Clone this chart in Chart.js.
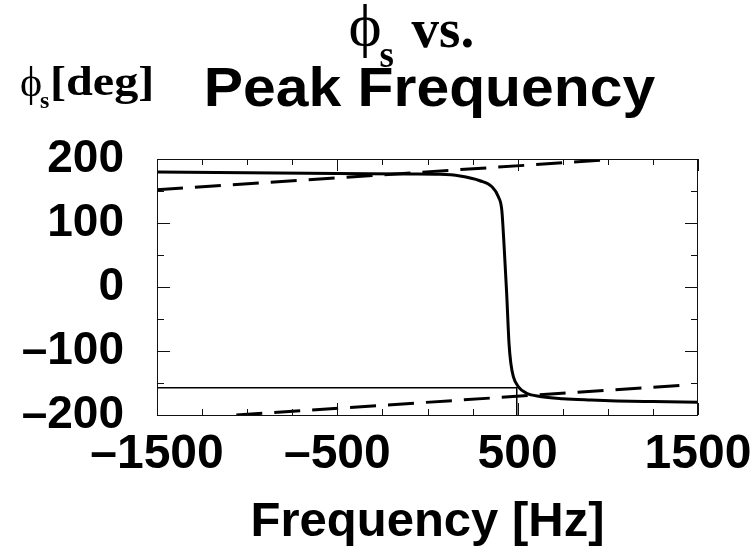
<!DOCTYPE html>
<html>
<head>
<meta charset="utf-8">
<script src="https://cdn.jsdelivr.net/npm/chart.js@4.4.1/dist/chart.umd.min.js"></script>
<style>
  html, body { margin: 0; padding: 0; background: #fff; }
  #wrap { width: 755px; height: 556px; position: relative; }
</style>
</head>
<body>
<div id="wrap"><canvas id="chart"></canvas></div>
<script>
// phase of the peak vs frequency offset
const freqHz   = [-1500, -1000, -500, -100, 69, 180, 291, 356, 393, 412, 424, 439, 452, 462, 476, 504, 550, 624, 750, 906, 1050, 1250, 1500];
const phaseDeg = [179.5, 178.5, 177.5, 176.5, 176, 173.4, 166, 157, 141, 120, 68, -10, -88, -119, -140, -156, -166, -171, -174.5, -176.6, -178, -179, -180];

// dashed reference lines (upper branch and the same one wrapped by -360)
const dashUpX = [-1500, 1000];
const dashUpY = [152, 198.7];
const dashLoX = [-1060, 1445];
const dashLoY = [-200, -153];

// thin marker lines
const markX = [-1500, 495, 495];
const markY = [-157.5, -157.5, -200];

const xTicks = [-1500, -500, 500, 1500];
const yTicks = [-200, -100, 0, 100, 200];

const pts = (xs, ys) => xs.map((x, i) => ({ x: x, y: ys[i] }));
const dash = s => String(s).replace('-', '\u2013');

// draw text squeezed/stretched horizontally
function wideText(ctx, txt, x, y, sx) {
  ctx.save();
  ctx.translate(x, y);
  ctx.scale(sx, 1);
  ctx.fillText(txt, 0, 0);
  ctx.restore();
}

// frame, inner tick marks, and the titles
const framePlugin = {
  id: 'frame',
  afterDraw(chart) {
    const { ctx, chartArea: a, scales: { x, y } } = chart;
    ctx.save();
    ctx.strokeStyle = '#111';
    ctx.lineWidth = 1;
    ctx.strokeRect(a.left + 0.5, a.top + 0.5, a.right - a.left - 1, a.bottom - a.top);

    ctx.beginPath();
    for (let v = -1500; v <= 1500; v += 250) {
      const px = Math.round(x.getPixelForValue(v)) + 0.5;
      const len = xTicks.includes(v) ? 12 : 6;
      ctx.moveTo(px, a.bottom); ctx.lineTo(px, a.bottom - len);
      ctx.moveTo(px, a.top); ctx.lineTo(px, a.top + len);
    }
    for (let v = -200; v <= 200; v += 50) {
      const py = Math.round(y.getPixelForValue(v)) + 0.5;
      const len = yTicks.includes(v) ? 13 : 7;
      ctx.moveTo(a.left, py); ctx.lineTo(a.left + len, py);
      ctx.moveTo(a.right, py); ctx.lineTo(a.right - len, py);
    }
    ctx.stroke();

    // titles
    const cx = (a.left + a.right) / 2;
    ctx.fillStyle = '#000';
    ctx.textBaseline = 'alphabetic';
    ctx.textAlign = 'left';

    ctx.font = '60px "Liberation Serif", "DejaVu Serif", serif';
    wideText(ctx, '\u03D5', cx - 79, 45, 1.05);
    ctx.font = 'bold 37px "Liberation Serif", serif';
    ctx.fillText('s', cx - 48, 67);
    ctx.font = 'bold 55px "Liberation Serif", serif';
    ctx.fillText('vs.', cx - 16, 47);

    ctx.save();
    ctx.font = 'bold 55px "Liberation Sans", Arial, sans-serif';
    ctx.textAlign = 'center';
    ctx.translate(cx + 2, 106);
    ctx.scale(1.07, 1);
    ctx.fillText('Peak Frequency', 0, 0);
    ctx.restore();

    ctx.font = '42px "Liberation Serif", "DejaVu Serif", serif';
    ctx.fillText('\u03D5', 20, 96);
    ctx.font = 'bold 24px "Liberation Serif", serif';
    ctx.fillText('s', 40, 108);
    ctx.font = 'bold 43px "Liberation Serif", serif';
    wideText(ctx, '[deg]', 50, 95, 1.12);
    ctx.restore();
  }
};

new Chart(document.getElementById('chart'), {
  type: 'scatter',
  data: {
    datasets: [
      {
        data: pts(freqHz, phaseDeg),
        showLine: true,
        borderColor: '#000',
        borderWidth: 3,
        pointRadius: 0,
        cubicInterpolationMode: 'monotone'
      },
      {
        data: pts(dashUpX, dashUpY),
        showLine: true,
        borderColor: '#000',
        borderWidth: 3,
        borderDash: [26, 12],
        pointRadius: 0
      },
      {
        data: pts(dashLoX, dashLoY),
        showLine: true,
        borderColor: '#000',
        borderWidth: 3,
        borderDash: [26, 12],
        pointRadius: 0
      },
      {
        data: pts(markX, markY),
        showLine: true,
        borderColor: '#000',
        borderWidth: 1.5,
        pointRadius: 0
      }
    ]
  },
  options: {
    responsive: true,
    maintainAspectRatio: false,
    animation: false,
    layout: { padding: { top: 159, right: 57, left: 0, bottom: 0 } },
    plugins: { legend: { display: false }, tooltip: { enabled: false }, title: { display: false } },
    scales: {
      x: {
        type: 'linear',
        min: -1500,
        max: 1500,
        afterBuildTicks: s => { s.ticks = xTicks.map(v => ({ value: v })); },
        afterFit: s => { s.height = 141; s.paddingLeft = 0; s.paddingRight = 0; },
        grid: { display: false, drawTicks: false },
        border: { display: false },
        ticks: {
          padding: 11,
          color: '#000',
          maxRotation: 0,
          font: { family: '"Liberation Sans", Arial, sans-serif', size: 48, weight: 'bold' },
          callback: v => dash(v)
        },
        title: {
          display: true,
          text: 'Frequency [Hz]',
          color: '#000',
          padding: { top: 0, bottom: 4 },
          font: { family: '"Liberation Sans", Arial, sans-serif', size: 49, weight: 'bold' }
        }
      },
      y: {
        type: 'linear',
        min: -200,
        max: 200,
        afterBuildTicks: s => { s.ticks = yTicks.map(v => ({ value: v })); },
        afterFit: s => { s.width = 157; },
        grid: { display: false, drawTicks: false },
        border: { display: false },
        ticks: {
          padding: 33,
          color: '#000',
          font: { family: '"Liberation Sans", Arial, sans-serif', size: 46, weight: 'bold' },
          callback: v => dash(v)
        }
      }
    }
  },
  plugins: [framePlugin]
});
</script>
</body>
</html>
